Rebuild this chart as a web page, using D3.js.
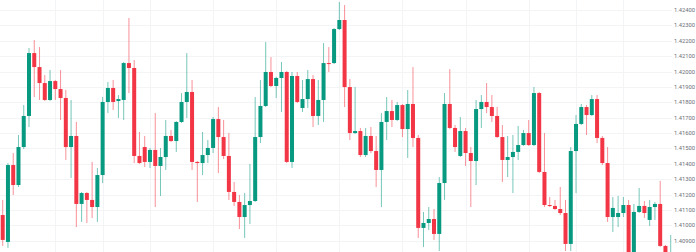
<!DOCTYPE html>
<html>

<head>
    <meta charset="utf-8">
    <title></title>
    <script src="https://d3js.org/d3.v7.min.js"></script>
    <style>
        html,
        body {
            margin: 0;
            padding: 0;
            background: #fff;
        }
    </style>
</head>

<body>
    <div id="chart"></div>

    <script>
        // OHLC values, one entry per candle
        const opens = [
            1.41067, 1.40892, 1.41392, 1.41262, 1.41509, 1.41711, 1.42120, 1.42029, 1.41925, 1.41815,
            1.41938, 1.41886, 1.41828, 1.41509, 1.41581, 1.41139, 1.41210, 1.41165, 1.41119, 1.41327,
            1.41802, 1.41893, 1.41808, 1.41815, 1.42055, 1.42023, 1.41451, 1.41509, 1.41412, 1.41490,
            1.41386, 1.41444, 1.41581, 1.41548, 1.41672, 1.41802, 1.41867, 1.41412, 1.41405, 1.41457,
            1.41503, 1.41691, 1.41574, 1.41451, 1.41217, 1.41152, 1.41054, 1.41132, 1.41158, 1.41574,
            1.41776, 1.41997, 1.41906, 1.41958, 1.41997, 1.41412, 1.41971, 1.41763, 1.41821, 1.41951,
            1.41711, 1.41815, 1.42055, 1.42055, 1.42276, 1.42335, 1.41899, 1.41600, 1.41613, 1.41457,
            1.41581, 1.41483, 1.41360, 1.41672, 1.41743, 1.41685, 1.41782, 1.41626, 1.41789, 1.41568,
            1.40983, 1.41015, 1.41041, 1.40944, 1.41275, 1.41789, 1.41633, 1.41451, 1.41613, 1.41470,
            1.41418, 1.41756, 1.41802, 1.41769, 1.41711, 1.41574, 1.41425, 1.41444, 1.41477, 1.41522,
            1.41600, 1.41522, 1.41860, 1.41347, 1.41132, 1.41126, 1.41106, 1.41080, 1.40879, 1.41483,
            1.41659, 1.41769, 1.41717, 1.41821, 1.41568, 1.41405, 1.41054, 1.41054, 1.41080, 1.41132,
            1.40814, 1.41087, 1.41126, 1.41035, 1.41119, 1.41139, 1.40866, 1.40787
        ];
        const highs = [
            1.41165, 1.41405, 1.41470, 1.41587, 1.41782, 1.42153, 1.42205, 1.42159, 1.41977, 1.42010,
            1.41945, 1.42010, 1.41880, 1.41815, 1.41672, 1.41217, 1.41217, 1.41412, 1.41373, 1.41834,
            1.41932, 1.41945, 1.41847, 1.42062, 1.42348, 1.42075, 1.41607, 1.41581, 1.41503, 1.41730,
            1.41503, 1.41685, 1.41620, 1.41678, 1.41860, 1.42120, 1.41945, 1.41418, 1.41607, 1.41555,
            1.41704, 1.41769, 1.41685, 1.41600, 1.41282, 1.41197, 1.41210, 1.41399, 1.41834, 1.41945,
            1.42192, 1.42094, 1.41965, 1.42062, 1.42003, 1.41997, 1.41997, 1.41945, 1.42010, 1.41977,
            1.41945, 1.42185, 1.42159, 1.42283, 1.42452, 1.42432, 1.41951, 1.41899, 1.41633, 1.41633,
            1.41639, 1.41581, 1.41730, 1.41834, 1.41815, 1.41802, 1.41789, 1.41880, 1.42029, 1.41587,
            1.41087, 1.41119, 1.41106, 1.41314, 1.41860, 1.42016, 1.41652, 1.41704, 1.41633, 1.41509,
            1.41815, 1.41847, 1.41925, 1.41847, 1.41769, 1.41652, 1.41581, 1.41587, 1.41646, 1.41620,
            1.41685, 1.41899, 1.41867, 1.41600, 1.41184, 1.41165, 1.41249, 1.41165, 1.41509, 1.41717,
            1.41789, 1.41782, 1.41847, 1.41847, 1.41581, 1.41509, 1.41184, 1.41191, 1.41184, 1.41165,
            1.41139, 1.41243, 1.41158, 1.41165, 1.41152, 1.41289, 1.40872, 1.40937
        ];
        const lows = [
            1.40866, 1.40853, 1.41197, 1.41249, 1.41496, 1.41639, 1.41834, 1.41815, 1.41808, 1.41808,
            1.41815, 1.41685, 1.41425, 1.41308, 1.40989, 1.41022, 1.41015, 1.41048, 1.41022, 1.41275,
            1.41730, 1.41750, 1.41698, 1.41685, 1.41860, 1.41405, 1.41399, 1.41379, 1.41373, 1.41119,
            1.41191, 1.41360, 1.41542, 1.41477, 1.41665, 1.41698, 1.41360, 1.41152, 1.41327, 1.41405,
            1.41470, 1.41340, 1.41431, 1.41165, 1.41126, 1.40976, 1.40918, 1.41009, 1.41152, 1.41535,
            1.41769, 1.41899, 1.41828, 1.41737, 1.41405, 1.41373, 1.41795, 1.41737, 1.41763, 1.41639,
            1.41652, 1.41672, 1.41997, 1.42049, 1.42270, 1.41769, 1.41555, 1.41594, 1.41444, 1.41444,
            1.41470, 1.41249, 1.41119, 1.41555, 1.41639, 1.41678, 1.41574, 1.41438, 1.41509, 1.40918,
            1.40859, 1.40970, 1.40905, 1.40833, 1.41165, 1.41626, 1.41477, 1.41444, 1.41386, 1.41119,
            1.41262, 1.41633, 1.41730, 1.41672, 1.41568, 1.41282, 1.41314, 1.41210, 1.41425, 1.41516,
            1.41516, 1.41516, 1.41340, 1.41119, 1.41119, 1.41100, 1.41067, 1.40833, 1.40833, 1.41210,
            1.41652, 1.41587, 1.41711, 1.41535, 1.41392, 1.41022, 1.40957, 1.40989, 1.41054, 1.40800,
            1.40800, 1.41080, 1.41048, 1.40996, 1.41035, 1.40859, 1.40787, 1.40774
        ];
        const closes = [
            1.40905, 1.41392, 1.41262, 1.41509, 1.41711, 1.42120, 1.42029, 1.41925, 1.41815, 1.41938,
            1.41886, 1.41828, 1.41509, 1.41581, 1.41139, 1.41210, 1.41165, 1.41119, 1.41327, 1.41802,
            1.41893, 1.41802, 1.41821, 1.42055, 1.42023, 1.41451, 1.41405, 1.41412, 1.41490, 1.41386,
            1.41444, 1.41581, 1.41548, 1.41672, 1.41802, 1.41867, 1.41412, 1.41405, 1.41457, 1.41503,
            1.41691, 1.41574, 1.41451, 1.41217, 1.41152, 1.41054, 1.41132, 1.41158, 1.41574, 1.41776,
            1.41997, 1.41906, 1.41958, 1.41997, 1.41412, 1.41971, 1.41802, 1.41821, 1.41951, 1.41711,
            1.41815, 1.42055, 1.42049, 1.42276, 1.42335, 1.41899, 1.41600, 1.41613, 1.41457, 1.41581,
            1.41483, 1.41360, 1.41672, 1.41743, 1.41685, 1.41782, 1.41626, 1.41789, 1.41568, 1.40983,
            1.41015, 1.41041, 1.40944, 1.41275, 1.41789, 1.41633, 1.41509, 1.41613, 1.41470, 1.41418,
            1.41756, 1.41802, 1.41769, 1.41711, 1.41574, 1.41425, 1.41444, 1.41477, 1.41522, 1.41600,
            1.41522, 1.41860, 1.41347, 1.41132, 1.41126, 1.41106, 1.41080, 1.40879, 1.41483, 1.41659,
            1.41769, 1.41717, 1.41821, 1.41568, 1.41405, 1.41054, 1.41113, 1.41080, 1.41132, 1.40814,
            1.41087, 1.41126, 1.41080, 1.41119, 1.41139, 1.40866, 1.40800, 1.40814
        ];

        // Price axis labels on the right
        const priceTicks = [1.424, 1.423, 1.422, 1.421, 1.420, 1.419, 1.418, 1.417,
            1.416, 1.415, 1.414, 1.413, 1.412, 1.411, 1.410, 1.409];

        // Candle indices where the vertical (time) grid lines sit
        const timeGrid = [10, 19, 28, 40, 52, 64, 76, 88, 100, 109, 118];

        const width = 696;
        const height = 252;
        const plotRight = 672;

        const upColor = "#089981";
        const downColor = "#f23645";

        const candles = opens.map((o, i) => ({
            i: i,
            open: o,
            high: highs[i],
            low: lows[i],
            close: closes[i]
        }));

        const svg = d3.select("#chart")
            .append("svg")
            .attr("width", width)
            .attr("height", height);

        svg.append("rect")
            .attr("width", width)
            .attr("height", height)
            .attr("fill", "#ffffff");

        const xScale = d3.scaleLinear()
            .domain([0, candles.length - 1])
            .range([2.7, 670.7]);

        const yScale = d3.scaleLinear()
            .domain([1.409, 1.424])
            .range([240.7, 10]);

        // grid
        svg.append("g")
            .selectAll("line")
            .data(priceTicks)
            .join("line")
            .attr("x1", 0)
            .attr("x2", plotRight)
            .attr("y1", d => Math.round(yScale(d)) + 0.5)
            .attr("y2", d => Math.round(yScale(d)) + 0.5)
            .attr("stroke", "#f3f4f6")
            .attr("stroke-width", 1);

        svg.append("g")
            .selectAll("line")
            .data(timeGrid)
            .join("line")
            .attr("x1", d => Math.round(xScale(d)) + 0.5)
            .attr("x2", d => Math.round(xScale(d)) + 0.5)
            .attr("y1", 0)
            .attr("y2", height)
            .attr("stroke", "#f3f4f6")
            .attr("stroke-width", 1);

        // candles
        const candle = svg.append("g")
            .selectAll("g")
            .data(candles)
            .join("g");

        candle.append("rect")
            .attr("x", d => xScale(d.i) - 0.5)
            .attr("width", 1)
            .attr("y", d => yScale(d.high))
            .attr("height", d => yScale(d.low) - yScale(d.high))
            .attr("fill", d => d.close >= d.open ? upColor : downColor)
            .attr("opacity", 0.55);

        candle.append("rect")
            .attr("x", d => xScale(d.i) - 2)
            .attr("width", 4)
            .attr("y", d => yScale(Math.max(d.open, d.close)))
            .attr("height", d => Math.max(1, Math.abs(yScale(d.open) - yScale(d.close))))
            .attr("fill", d => d.close >= d.open ? upColor : downColor);

        // price labels
        svg.append("g")
            .selectAll("text")
            .data(priceTicks)
            .join("text")
            .attr("x", 695)
            .attr("y", d => yScale(d))
            .attr("dy", "0.35em")
            .attr("text-anchor", "end")
            .attr("font-family", "Roboto, sans-serif")
            .attr("font-size", "5.8px")
            .attr("fill", "#6b6e78")
            .text(d => d3.format(".5f")(d));
    </script>
</body>

</html>
